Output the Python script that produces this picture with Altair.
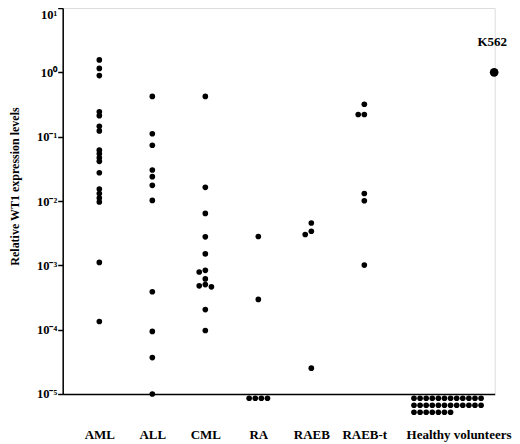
import math
import altair as alt
import pandas as pd

# ---------------- data ----------------
categories = ["AML", "ALL", "CML", "RA", "RAEB", "RAEB-t", "Healthy volunteers"]

aml = [1.56, 1.15, 0.89, 0.244, 0.212, 0.145, 0.123, 0.0617, 0.0541, 0.0469,
       0.0414, 0.0275, 0.0153, 0.0131, 0.0111, 0.00966, 0.00111, 0.000134]
all_ = [0.423, 0.111, 0.0736, 0.0303, 0.0239, 0.0175, 0.0102, 0.000388,
        0.000094, 0.0000368, 0.00001]
cml = [0.423, 0.0163, 0.00641, 0.00277, 0.00151, 0.000837, 0.000788, 0.000615,
       0.000502, 0.000480, 0.000463, 0.000205, 0.000097]
ra = [0.00281, 0.000295]
raeb = [0.00455, 0.00339, 0.00301, 0.0000252]
raebt = [0.319, 0.221, 0.221, 0.0131, 0.0101, 0.00101]
healthy = []

# number of samples below the detection limit (drawn under the axis)
undetectable = {"RA": 4, "Healthy volunteers": 31}

k562_label = "K562"
k562_value = 1.0

y_tick_values = [10, 1, 0.1, 0.01, 0.001, 0.0001, 0.00001]

# ---------------- layout ----------------
W, H = 432, 386
Y_MIN, Y_MAX = 1e-5, 10
DECADE_PX = H / math.log10(Y_MAX / Y_MIN)
SLOT_PX = 53.0
slot = {c: i + 1 for i, c in enumerate(categories[:6])}
slot["Healthy volunteers"] = 7.57
K562_SLOT = 8.45
X_LO = 0.309
X_DOMAIN = [X_LO, X_LO + W / SLOT_PX]
DOT_STEP = 6.1   # px between neighbouring dots
TIE_PX = 3.4     # dots closer than this vertically are moved sideways
GRID_COLS = 12
FONT = "Liberation Serif"

series = {"AML": aml, "ALL": all_, "CML": cml, "RA": ra, "RAEB": raeb,
          "RAEB-t": raebt, "Healthy volunteers": healthy}

rows = []
for cat, vals in series.items():
    placed = []
    for v in sorted(vals, reverse=True):
        ypx = (math.log10(Y_MAX) - math.log10(v)) * DECADE_PX
        for k in [0, -1, 1, -2, 2, -3, 3]:
            if all(not (pk == k and abs(py - ypx) < TIE_PX) for pk, py in placed):
                break
        placed.append((k, ypx))
        rows.append({"group": cat, "x": slot[cat] + k * DOT_STEP / SLOT_PX, "y": v})

for cat, n in undetectable.items():
    ncol = min(n, GRID_COLS)
    for i in range(n):
        r, c = divmod(i, ncol)
        xo = (c - (ncol - 1) / 2) * DOT_STEP
        below = 4.3 + r * 7.0
        yv = 10 ** (math.log10(Y_MIN) - below / DECADE_PX)
        rows.append({"group": cat, "x": slot[cat] + xo / SLOT_PX, "y": yv})

df = pd.DataFrame(rows)
k_df = pd.DataFrame([{"x": K562_SLOT, "y": k562_value, "label": k562_label}])

# label expressions
x_vals = [slot[c] for c in categories]
x_expr = "".join(f"datum.value == {slot[c]} ? '{c}' : " for c in categories) + "''"
sup = {1: "¹", 0: "⁰", -1: "⁻¹", -2: "⁻²", -3: "⁻³", -4: "⁻⁴", -5: "⁻⁵"}
y_expr = "".join(
    f"round(log(datum.value)/LN10) == {e} ? '10{s}' : " for e, s in sup.items()) + "''"

x_enc = alt.X(
    "x:Q",
    scale=alt.Scale(domain=X_DOMAIN, nice=False, zero=False),
    axis=alt.Axis(values=x_vals, labelExpr=x_expr, title=None, grid=False,
                  ticks=False, tickSize=0, domainColor="black", domainWidth=1.5,
                  labelFont=FONT, labelFontWeight="bold", labelFontSize=13,
                  labelColor="black", labelPadding=35, labelFlush=False,
                  labelOverlap=False, labelLimit=300,
                  labelOffset={"condition": {"test": "datum.value > 7", "value": 11},
                               "value": 0}),
)
y_enc = alt.Y(
    "y:Q",
    scale=alt.Scale(type="log", domain=[Y_MIN, Y_MAX], nice=False),
    axis=alt.Axis(values=y_tick_values, labelExpr=y_expr,
                  title="Relative WT1 expression levels", grid=False,
                  tickSize=5, tickWidth=1.5, tickColor="black",
                  domainColor="black", domainWidth=1.5,
                  labelFont=FONT, labelFontWeight="bold", labelFontSize=12.5,
                  labelColor="black", labelPadding=1, labelFlush=False,
                  labelOverlap=False,
                  labelBaseline={"condition": {"test": "datum.value > 5", "value": "top"},
                                 "value": "middle"},
                  titleFont=FONT, titleFontWeight="bold", titleFontSize=12,
                  titleColor="black", titleX=-48, titleY=178,
                  titleAlign="center", titleBaseline="middle"),
)

dots = alt.Chart(df).mark_circle(color="black", opacity=1, size=32).encode(
    x=x_enc, y=y_enc)

k_dot = alt.Chart(k_df).mark_circle(color="black", opacity=1, size=75).encode(
    x=alt.X("x:Q"), y=alt.Y("y:Q"))

k_text = alt.Chart(k_df).mark_text(
    font=FONT, fontWeight="bold", fontSize=13, color="black", dy=-30, dx=-2,
    baseline="middle").encode(x=alt.X("x:Q"), y=alt.Y("y:Q"), text="label:N")

chart = alt.layer(dots, k_dot, k_text).properties(
    width=W, height=H,
    autosize=alt.AutoSizeParams(type="none"),
    padding={"left": 54.7, "top": 0, "right": 17, "bottom": 50},
).configure_view(stroke=None).configure(background="white")

chart.save("out.html", embed_options={"renderer": "svg", "actions": False})
